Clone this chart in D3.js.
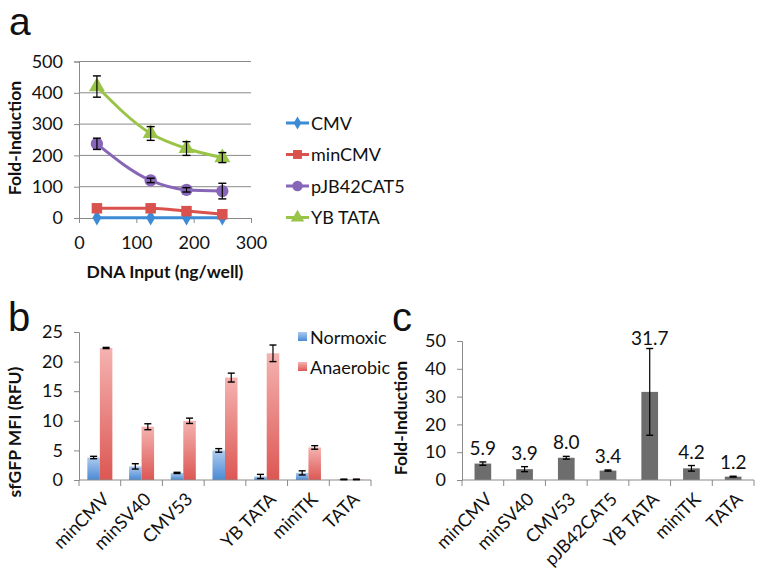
<!DOCTYPE html>
<html><head><meta charset="utf-8">
<script src="https://cdn.jsdelivr.net/npm/d3@7"></script>
<style>body{margin:0;background:#fff}svg{display:block}text{font-family:Lato,"Open Sans",sans-serif;fill:#111}</style>
</head><body><svg id="c" width="762" height="575"></svg>
<script>
// ---------- Panel a data ----------
const aInputs = [31.25, 125, 187.5, 250];
const aSeriesNames = ["CMV", "minCMV", "pJB42CAT5", "YB TATA"];
const aCMV = [1, 1, 1, 1];
const aCMVErr = [0.5, 0.5, 0.5, 0.5];
const aMinCMV = [31, 31, 22, 12];
const aMinCMVErr = [3, 3, 3, 3];
const aPJB = [237, 120, 90, 86];
const aPJBErr = [18, 7, 7, 25];
const aYB = [420, 270, 222, 193];
const aYBErr = [34, 22, 22, 16];
const aYTicks = [0, 100, 200, 300, 400, 500];
const aXTicks = [0, 100, 200, 300];

// ---------- Panel b data ----------
const bCategories = ["minCMV", "minSV40", "CMV53", "", "YB TATA", "miniTK", "TATA"];
const bNormoxic = [3.8, 2.3, 1.2, 5.0, 0.6, 1.2, 0.1];
const bNormoxicErr = [0.2, 0.45, 0.1, 0.3, 0.35, 0.35, 0.05];
const bAnaerobic = [22.3, 9.0, 10.0, 17.3, 21.4, 5.5, 0.1];
const bAnaerobicErr = [0.1, 0.5, 0.45, 0.75, 1.4, 0.3, 0.05];
const bYTicks = [0, 5, 10, 15, 20, 25];

// ---------- Panel c data ----------
const cCategories = ["minCMV", "minSV40", "CMV53", "pJB42CAT5", "YB TATA", "miniTK", "TATA"];
const cValues = [5.9, 3.9, 8.0, 3.4, 31.7, 4.2, 1.2];
const cErr = [0.6, 0.9, 0.5, 0.2, 15.6, 1.0, 0.15];
const cYTicks = [0, 10, 20, 30, 40, 50];

const svg = d3.select("#c");
const axisCol = "#8a8a8a";
const FS = "18px";
const TFS = "17.5px";

function errBar(g, x, y1, y2, cap) {
  g.append("line").attr("x1", x).attr("x2", x).attr("y1", y1).attr("y2", y2).attr("stroke", "#000").attr("stroke-width", 1.2);
  [y1, y2].forEach(y => g.append("line").attr("x1", x - cap).attr("x2", x + cap).attr("y1", y).attr("y2", y).attr("stroke", "#000").attr("stroke-width", 1.4));
}
function styleAxis(sel) {
  sel.select(".domain").attr("stroke", axisCol);
  sel.selectAll(".tick line").attr("stroke", axisCol);
  sel.selectAll("text").style("font-size", FS).style("font-family", "Lato").attr("fill", "#111");
}

// panel letters
svg.append("text").attr("x", 9).attr("y", 35).style("font-family", "'Liberation Sans',Arial,sans-serif").style("font-size", "39px").text("a");
svg.append("text").attr("x", 8).attr("y", 331).style("font-family", "'Liberation Sans',Arial,sans-serif").style("font-size", "40px").text("b");
svg.append("text").attr("x", 392).attr("y", 331).style("font-family", "'Liberation Sans',Arial,sans-serif").style("font-size", "40px").text("c");

// ================= Panel a =================
{
  const x = d3.scaleLinear().domain([0, 300]).range([79, 251]);
  const y = d3.scaleLinear().domain([0, 500]).range([218, 61.5]);
  const g = svg.append("g");
  g.selectAll(".grid").data(aYTicks.slice(1)).join("line")
    .attr("x1", 79).attr("x2", 251).attr("y1", d => y(d)).attr("y2", d => y(d))
    .attr("stroke", axisCol).attr("stroke-width", 1);
  const yg = g.append("g").attr("transform", "translate(79,0)").call(d3.axisLeft(y).tickValues(aYTicks).tickSize(5).tickPadding(11));
  styleAxis(yg);
  const xg = g.append("g").attr("transform", `translate(0,${y(0)})`).call(d3.axisBottom(x).tickValues(aXTicks).tickSize(5).tickPadding(13));
  styleAxis(xg);

  g.append("text").attr("transform", "translate(21,138) rotate(-90)").attr("text-anchor", "middle")
    .style("font-size", TFS).style("font-weight", "bold").text("Fold-Induction");
  g.append("text").attr("x", 165).attr("y", 278).attr("text-anchor", "middle")
    .style("font-size", TFS).style("font-weight", "bold").text("DNA Input (ng/well)");

  const series = [
    {name: aSeriesNames[0], v: aCMV, e: aCMVErr, c: "#3b8bd6", m: "diamond"},
    {name: aSeriesNames[1], v: aMinCMV, e: aMinCMVErr, c: "#d9524e", m: "square"},
    {name: aSeriesNames[2], v: aPJB, e: aPJBErr, c: "#8766b8", m: "circle"},
    {name: aSeriesNames[3], v: aYB, e: aYBErr, c: "#99c447", m: "triangle"}
  ];
  const line = d3.line().x((d, i) => x(aInputs[i])).y(d => y(d)).curve(d3.curveMonotoneX);
  const sym = {diamond: d3.symbol().type(d3.symbolDiamond).size(70),
               square: d3.symbol().type(d3.symbolSquare).size(110),
               circle: d3.symbol().type(d3.symbolCircle).size(120),
               triangle: d3.symbol().type(d3.symbolTriangle).size(110)};
  series.forEach(s => {
    g.append("path").attr("d", line(s.v)).attr("fill", "none").attr("stroke", s.c).attr("stroke-width", 3);
    s.v.forEach((v, i) => {
      g.append("path").attr("d", sym[s.m]()).attr("transform", `translate(${x(aInputs[i])},${y(v)})`).attr("fill", s.c);
    });
  });
  series.forEach(s => {
    s.v.forEach((v, i) => {
      if (s.e[i] > 4) errBar(g, x(aInputs[i]), y(v + s.e[i]), y(v - s.e[i]), 4);
    });
  });
  const legY = [123, 154.5, 186, 217.5];
  series.forEach((s, i) => {
    const lg = g.append("g").attr("transform", `translate(0,${legY[i]})`);
    lg.append("line").attr("x1", 286).attr("x2", 309).attr("stroke", s.c).attr("stroke-width", 3);
    lg.append("path").attr("d", sym[s.m]()).attr("transform", "translate(297.5,0) scale(0.85)").attr("fill", s.c);
    lg.append("text").attr("x", 311).attr("y", 6.5).style("font-size", FS).text(s.name);
  });
}

// ================= Panel b =================
{
  const x = d3.scaleBand().domain(d3.range(bCategories.length)).range([79, 371]).padding(0);
  const y = d3.scaleLinear().domain([0, 25]).range([480, 332]);
  const g = svg.append("g");
  const defs = svg.append("defs");
  const gb = defs.append("linearGradient").attr("id", "gBlue").attr("x1", 0).attr("x2", 0).attr("y1", 0).attr("y2", 1);
  gb.append("stop").attr("offset", 0).attr("stop-color", "#aecbee");
  gb.append("stop").attr("offset", 1).attr("stop-color", "#4a8ad4");
  const gr = defs.append("linearGradient").attr("id", "gRed").attr("x1", 0).attr("x2", 0).attr("y1", 0).attr("y2", 1);
  gr.append("stop").attr("offset", 0).attr("stop-color", "#f5b3b1");
  gr.append("stop").attr("offset", 1).attr("stop-color", "#dc5753");

  const yg = g.append("g").attr("transform", "translate(79,0)").call(d3.axisLeft(y).tickValues(bYTicks).tickSize(5).tickPadding(11));
  styleAxis(yg);

  const bw = x.bandwidth() * 0.3;
  bCategories.forEach((c, i) => {
    const cx = x(i) + x.bandwidth() / 2;
    g.append("rect").attr("x", cx - bw).attr("width", bw).attr("y", y(bNormoxic[i])).attr("height", y(0) - y(bNormoxic[i])).attr("fill", "url(#gBlue)");
    g.append("rect").attr("x", cx).attr("width", bw).attr("y", y(bAnaerobic[i])).attr("height", y(0) - y(bAnaerobic[i])).attr("fill", "url(#gRed)");
  });
  g.append("line").attr("x1", 79).attr("x2", 371).attr("y1", y(0)).attr("y2", y(0)).attr("stroke", axisCol);
  d3.range(bCategories.length + 1).forEach(i => {
    const xx = 79 + i * x.bandwidth();
    g.append("line").attr("x1", xx).attr("x2", xx).attr("y1", y(0)).attr("y2", y(0) + 6).attr("stroke", axisCol);
  });
  bCategories.forEach((c, i) => {
    const cx = x(i) + x.bandwidth() / 2;
    errBar(g, cx - bw / 2, y(bNormoxic[i] + bNormoxicErr[i]), y(bNormoxic[i] - bNormoxicErr[i]), 3.5);
    errBar(g, cx + bw / 2, y(bAnaerobic[i] + bAnaerobicErr[i]), y(bAnaerobic[i] - bAnaerobicErr[i]), 3.5);
    g.append("text").attr("text-anchor", "end").attr("transform", `translate(${cx + 6},${y(0) + 16}) rotate(-45)`)
      .attr("dy", "0.35em").style("font-size", FS).text(c);
  });
  g.append("text").attr("transform", "translate(21,432) rotate(-90)").attr("text-anchor", "middle")
    .style("font-size", TFS).style("font-weight", "bold").text("sfGFP MFI (RFU)");
  const leg = [["Normoxic", "url(#gBlue)", 337], ["Anaerobic", "url(#gRed)", 367]];
  leg.forEach(l => {
    g.append("rect").attr("x", 298).attr("y", l[2] - 5).attr("width", 9).attr("height", 9).attr("fill", l[1]);
    g.append("text").attr("x", 310).attr("y", l[2] + 6.5).style("font-size", FS).text(l[0]);
  });
}

// ================= Panel c =================
{
  const x = d3.scaleBand().domain(d3.range(cCategories.length)).range([462, 754]).padding(0);
  const y = d3.scaleLinear().domain([0, 50]).range([480, 341]);
  const g = svg.append("g");
  const yg = g.append("g").attr("transform", "translate(462,0)").call(d3.axisLeft(y).tickValues(cYTicks).tickSize(5).tickPadding(11));
  styleAxis(yg);
  const bw = x.bandwidth() * 0.4;
  cCategories.forEach((c, i) => {
    const cx = x(i) + x.bandwidth() / 2;
    g.append("rect").attr("x", cx - bw / 2).attr("width", bw).attr("y", y(cValues[i])).attr("height", y(0) - y(cValues[i])).attr("fill", "#6d6d6d");
  });
  g.append("line").attr("x1", 462).attr("x2", 754).attr("y1", y(0)).attr("y2", y(0)).attr("stroke", axisCol);
  d3.range(cCategories.length + 1).forEach(i => {
    const xx = 462 + i * x.bandwidth();
    g.append("line").attr("x1", xx).attr("x2", xx).attr("y1", y(0)).attr("y2", y(0) + 6).attr("stroke", axisCol);
  });
  cCategories.forEach((c, i) => {
    const cx = x(i) + x.bandwidth() / 2;
    errBar(g, cx, y(cValues[i] + cErr[i]), y(cValues[i] - cErr[i]), 3.5);
    g.append("text").attr("x", cx).attr("y", y(cValues[i] + cErr[i]) - (cErr[i] > 5 ? 4 : 7)).attr("text-anchor", "middle")
      .style("font-size", "19px").text(cValues[i].toFixed(1));
    g.append("text").attr("text-anchor", "end").attr("transform", `translate(${cx + 6},${y(0) + 16}) rotate(-45)`)
      .attr("dy", "0.35em").style("font-size", FS).text(c);
  });
  g.append("text").attr("transform", "translate(407,418) rotate(-90)").attr("text-anchor", "middle")
    .style("font-size", TFS).style("font-weight", "bold").text("Fold-Induction");
}
</script></body></html>
